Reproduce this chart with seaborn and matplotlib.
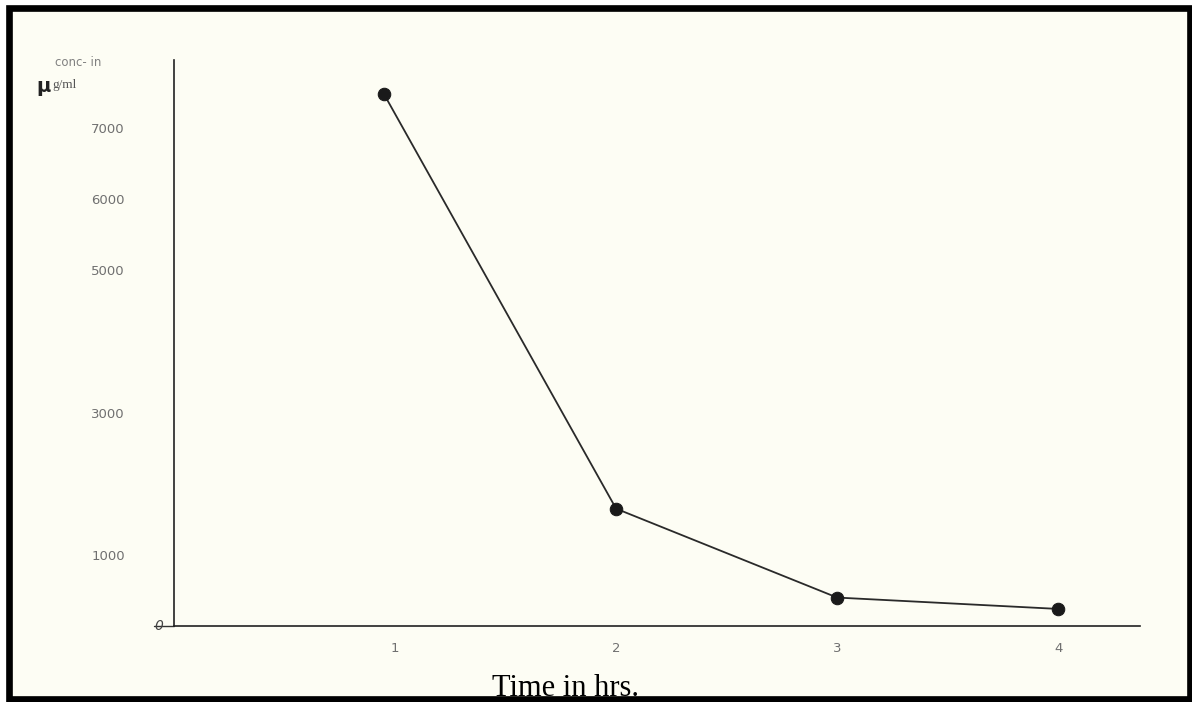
import numpy as np
import pandas as pd
import matplotlib
matplotlib.use('Agg')
import matplotlib.pyplot as plt
import seaborn as sns
from matplotlib.patches import Rectangle

# values
time_hrs = [0.95, 2, 3, 4]
conc = [7480, 1650, 400, 240]
x_ticks = [1, 2, 3, 4]
y_ticks = [1000, 3000, 5000, 6000, 7000]
y_tick_labels = ['1000', '3000', '5000', '6000', '7000']

df = pd.DataFrame({'time': time_hrs, 'conc': conc})

sns.set_theme(style='white')
plt.rcParams['font.family'] = ['DejaVu Sans']

W, H = 1192, 702
fig = plt.figure(figsize=(W / 100, H / 100), dpi=100, facecolor='white')

# paper background and the black frame of the scan
fig.patches.append(Rectangle((9 / W, 3.5 / H), (1190 - 9) / W, (694.5 - 3.5) / H,
                             transform=fig.transFigure, facecolor='#fdfdf4',
                             edgecolor='none', zorder=-5))
fig.patches.append(Rectangle((9 / W, 3.5 / H), (1190 - 9) / W, (694.5 - 3.5) / H,
                             transform=fig.transFigure, facecolor='none',
                             edgecolor='black', linewidth=4.8, zorder=10))

ax = fig.add_axes([174 / W, 76 / H, (1140 - 174) / W, (626 - 60) / H])
ax.set_facecolor('none')

sns.lineplot(data=df, x='time', y='conc', ax=ax, color='#2a2a2a', linewidth=1.3,
             marker='o', markersize=9, markerfacecolor='#1a1a1a',
             markeredgecolor='#1a1a1a')

ax.set_xlim(0, 4.37)
ax.set_ylim(0, 7960)

for s in ['top', 'right']:
    ax.spines[s].set_visible(False)
for s in ['left', 'bottom']:
    ax.spines[s].set_color('#222222')
    ax.spines[s].set_linewidth(1.2)

ax.set_xticks(x_ticks)
ax.set_xticklabels([str(v) for v in x_ticks])
ax.set_yticks(y_ticks)
ax.set_yticklabels(y_tick_labels)
ax.tick_params(axis='x', direction='inout', length=7, width=1, color='#333333',
               pad=8, labelsize=9.5, labelcolor='#707070')
ax.tick_params(axis='y', direction='inout', length=7, width=1, color='#333333',
               pad=32, labelsize=9.5, labelcolor='#707070')

# the zero at the origin, written over a short tick
ax.plot([-0.09, 0], [0, 0], color='#333333', linewidth=1, clip_on=False)
ax.text(-0.07, 0, '0', ha='center', va='center', fontsize=10, color='#444444',
        style='italic', clip_on=False)

ax.set_xlabel('')
ax.set_ylabel('')

fig.text(78 / W, 1 - 62 / H, 'conc- in', ha='center', va='center',
         fontsize=8.5, color='#808080')
fig.text(44 / W, 1 - 86 / H, '\u00b5', ha='center', va='center',
         fontsize=14, color='#222222', fontweight='bold')
fig.text(52 / W, 1 - 85 / H, 'g/ml', ha='left', va='center',
         fontsize=9.5, color='#555555', family=['Liberation Serif'])

fig.text(565 / W, 6 / H, 'Time in hrs.', ha='center', va='baseline',
         fontsize=22, color='black', family=['Liberation Serif'])

fig.savefig('out.png', dpi=100, facecolor=fig.get_facecolor())
